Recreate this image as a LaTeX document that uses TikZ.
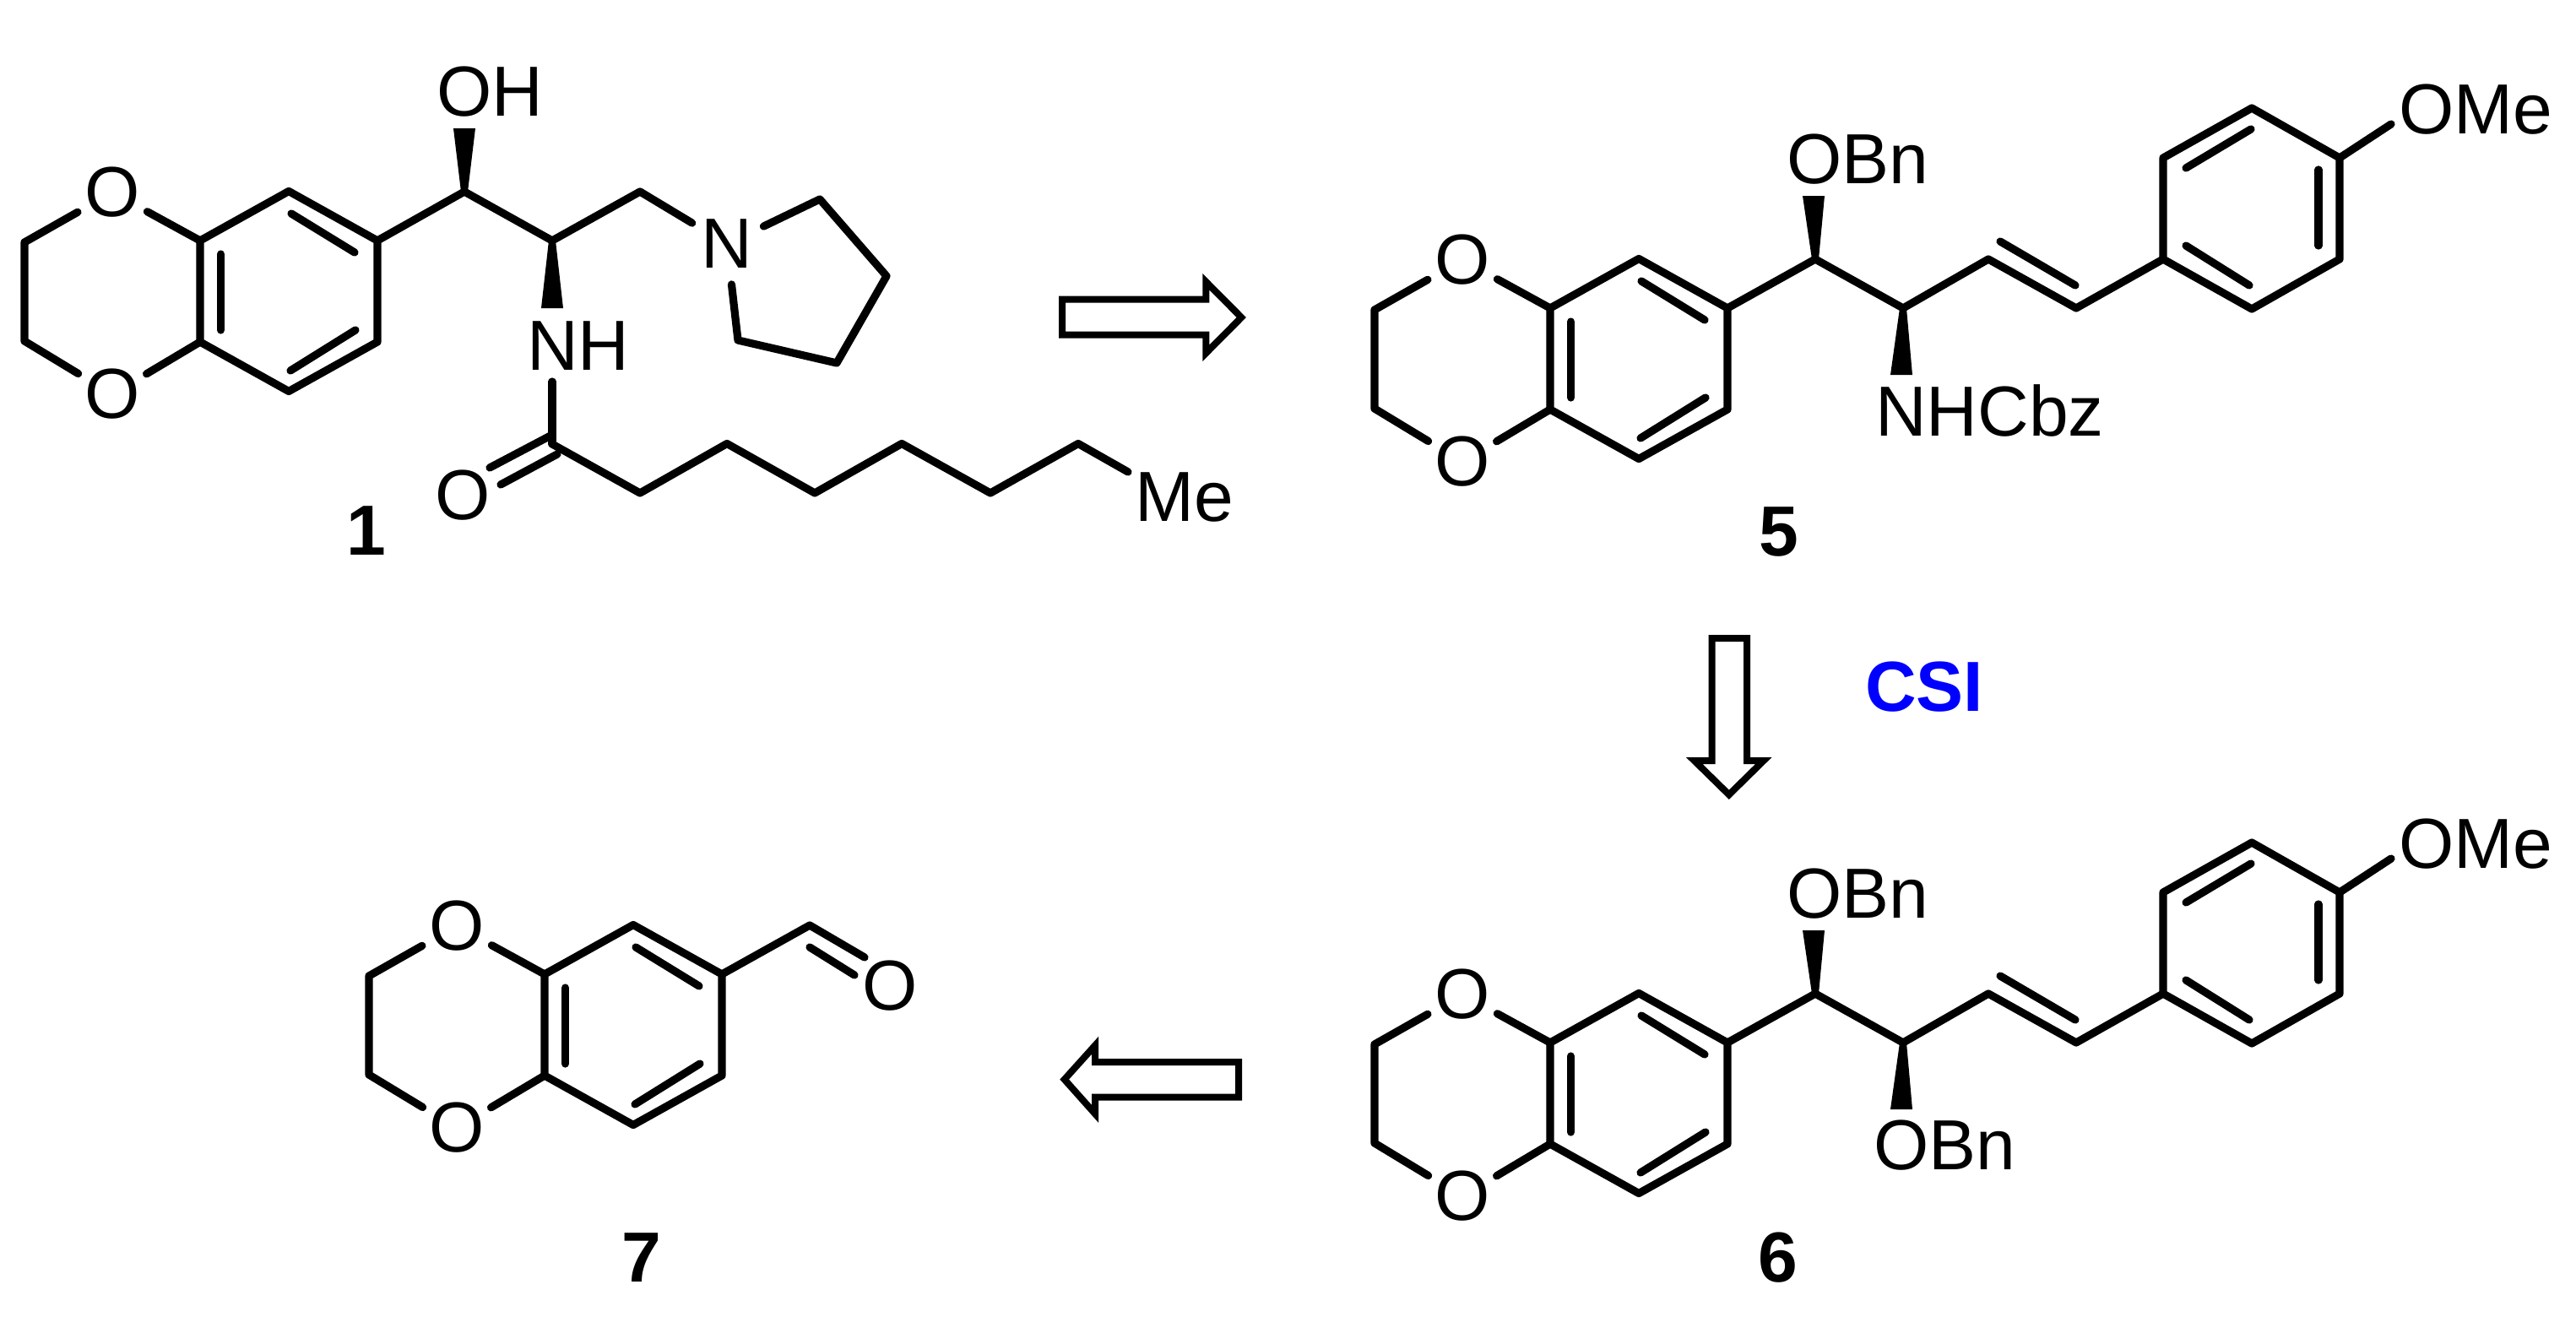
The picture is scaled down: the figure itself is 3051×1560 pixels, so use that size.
\documentclass[tikz,border=0pt]{standalone}
\usepackage{fontspec}
\setmainfont{Liberation Sans}
\usetikzlibrary{calc}
\tikzset{
  bond/.style={line width=9.2pt,line cap=round,line join=round},
  hollow/.style={line width=8pt,line join=miter,miter limit=10,fill=white},
  atom/.style={circle,inner sep=0pt,minimum size=94pt,font=\fontsize{84}{84}\selectfont},
  lab/.style={anchor=base west,inner sep=0pt,font=\fontsize{84}{84}\selectfont},
  numlab/.style={inner sep=0pt,font=\fontsize{84}{84}\selectfont\bfseries},
}
% benzodioxane unit, #1 = name prefix, #2 = shift
\newcommand{\Benzo}[2]{%
\begin{scope}[shift={(#2)}]
  \coordinate (#1top) at (342,226.5);
  \coordinate (#1a) at (237,285);
  \coordinate (#1c) at (447,285);
  \coordinate (#1d) at (447,405);
  \coordinate (#1e) at (342,463.5);
  \coordinate (#1f) at (237,405);
  \coordinate (#1m) at (29,287);
  \coordinate (#1n) at (29,404);
  \node[atom] (#1O) at (133,228) {O};
  \node[atom] (#1Q) at (133,467) {O};
  \coordinate (#1ia) at (345,253);
  \coordinate (#1ib) at (420,299);
  \coordinate (#1ic) at (344,439);
  \coordinate (#1id) at (421,391);
  \coordinate (#1ie) at (261.5,301);
  \coordinate (#1if) at (261.5,391);
  \draw[bond] (#1a) -- (#1top) -- (#1c) -- (#1d) -- (#1e) -- (#1f) -- cycle;
  \draw[bond] (#1a) -- (#1O) -- (#1m) -- (#1n) -- (#1Q) -- (#1f);
  \draw[bond] (#1ia) -- (#1ib);
  \draw[bond] (#1ic) -- (#1id);
  \draw[bond] (#1ie) -- (#1if);
\end{scope}}
% chain and anisyl unit, #1 = prefix, #2 = vertical shift, #3 base x, #4 base y, #5 lower text
\newcommand{\ArTail}[5]{%
\begin{scope}[shift={(0,#2)}]
  \coordinate (#1s) at (2150,307);
  \coordinate (#1t) at (2254,365);
  \coordinate (#1u) at (2355,307);
  \coordinate (#1v) at (2459,365);
  \coordinate (#1w) at (2562,307);
  \coordinate (#1x) at (2562,187);
  \coordinate (#1y) at (2667,128);
  \coordinate (#1z) at (2771,187);
  \coordinate (#1p) at (2771,307);
  \coordinate (#1q) at (2667,366);
  \coordinate (#1oe) at (2832,147);
  \coordinate (#1wu) at (2148,232);
  \coordinate (#1wd) at (2252,444);
  \coordinate (#1ea) at (2369,286);
  \coordinate (#1eb) at (2458,338);
  \coordinate (#1ra) at (2666,153);
  \coordinate (#1rb) at (2589,199);
  \coordinate (#1rc) at (2746,201);
  \coordinate (#1rd) at (2746,291);
  \coordinate (#1re) at (2589,291);
  \coordinate (#1rf) at (2664,338);
  \node[lab] (#1ome) at (2841,158) {OMe};
  \node[lab] (#1obn) at (2116,217) {OBn};
  \node[lab] (#1low) at (#3,#4) {#5};
  \draw[bond] (#1c) -- (#1s) -- (#1t) -- (#1u) -- (#1v) -- (#1w);
  \draw[bond] (#1w) -- (#1x) -- (#1y) -- (#1z) -- (#1p) -- (#1q) -- cycle;
  \draw[bond] (#1z) -- (#1oe);
  \draw[bond] (#1ea) -- (#1eb);
  \draw[bond] (#1ra) -- (#1rb);
  \draw[bond] (#1rc) -- (#1rd);
  \draw[bond] (#1re) -- (#1rf);
  \fill ([xshift=-4pt]#1s) -- ([xshift=-13pt]#1wu) -- ([xshift=13pt]#1wu) -- ([xshift=4pt]#1s) -- cycle;
  \fill ([xshift=-4pt]#1t) -- ([xshift=-13pt]#1wd) -- ([xshift=13pt]#1wd) -- ([xshift=4pt]#1t) -- cycle;
\end{scope}}
\begin{document}
\begin{tikzpicture}[x=1pt,y=-1pt]
\path[fill=white,use as bounding box] (0,0) rectangle (3051,1560);

% ---------- compound 1
\Benzo{A}{0,0}
\coordinate (Ach) at (550,227);
\coordinate (Acn) at (654,285);
\coordinate (Acm) at (758,227);
\node[atom,minimum size=96pt] (An) at (861,289) {N};
\coordinate (Ap) at (971,236);
\coordinate (Aq) at (1050,327);
\coordinate (Ar) at (991,430);
\coordinate (As) at (874,403);
\draw[bond] (Ac) -- (Ach) -- (Acn) -- (Acm) -- (An);
\draw[bond] (An) -- (Ap) -- (Aq) -- (Ar) -- (As) -- (An);
\node[lab] (Aoh) at (517,138) {OH};
\coordinate (Awu) at (550,152);
\coordinate (Awd) at (654,365);
\fill ([xshift=-4pt]Ach) -- ([xshift=-13pt]Awu) -- ([xshift=13pt]Awu) -- ([xshift=4pt]Ach) -- cycle;
\fill ([xshift=-4pt]Acn) -- ([xshift=-13pt]Awd) -- ([xshift=13pt]Awd) -- ([xshift=4pt]Acn) -- cycle;
\node[lab] (Anh) at (624,438) {NH};
\coordinate (Anb) at (654,452);
\coordinate (Aco) at (654,526);
\coordinate (Ad1) at (654,515);
\coordinate (Ad2) at (580,554);
\coordinate (Ad3) at (660,538);
\coordinate (Ad4) at (593,574);
\node[atom] (Acox) at (548,587) {O};
\draw[bond] (Anb) -- (Aco);
\draw[bond] (Ad1) -- (Ad2);
\draw[bond] (Ad3) -- (Ad4);
\coordinate (Ab1) at (758,584);
\coordinate (Ab2) at (861,525.5);
\coordinate (Ab3) at (965,584);
\coordinate (Ab4) at (1068,525.5);
\coordinate (Ab5) at (1173,584);
\coordinate (Ab6) at (1277,525.5);
\coordinate (Ab7) at (1336,559);
\draw[bond] (Aco) -- (Ab1) -- (Ab2) -- (Ab3) -- (Ab4) -- (Ab5) -- (Ab6) -- (Ab7);
\node[lab] (Ame) at (1344,617) {Me};
\node[numlab] (Alab) at (434,629) {1};

% ---------- compound 5
\Benzo{B}{1599,80}
\ArTail{B}{0}{2221}{516}{NHCbz}
\node[numlab] (Blab) at (2107,630) {5};

% ---------- compound 6
\Benzo{C}{1599,950}
\ArTail{C}{870}{2219}{515}{OBn}
\node[numlab] (Clab) at (2106,1490) {6};

% ---------- compound 7
\Benzo{D}{408,869}
\coordinate (Dch) at (959,1096);
\coordinate (Do1) at (1024,1134);
\coordinate (Do2) at (959,1122);
\coordinate (Do3) at (1012,1155);
\node[atom] (Dox) at (1054.6,1168) {O};
\draw[bond] (Dc) -- (Dch) -- (Do1);
\draw[bond] (Do2) -- (Do3);
\node[numlab] (Dlab) at (760,1490) {7};

% ---------- retrosynthetic arrows
\draw[hollow] (1258,354.7) -- (1428.3,354.7) -- (1428.3,333.7) -- (1470.3,376) -- (1428.3,418.3) -- (1428.3,396.7) -- (1258,396.7) -- cycle;
\draw[hollow] (2027.5,756) -- (2069,756) -- (2069,901) -- (2088.8,901) -- (2047.8,941.3) -- (2006.7,901) -- (2027.5,901) -- cycle;
\draw[hollow] (1467,1258) -- (1297,1258) -- (1297,1238.3) -- (1260.7,1278.6) -- (1297,1319.3) -- (1297,1299.6) -- (1467,1299.6) -- cycle;
\node[numlab,text=blue] (csi) at (2279,814) {CSI};
\end{tikzpicture}
\end{document}
